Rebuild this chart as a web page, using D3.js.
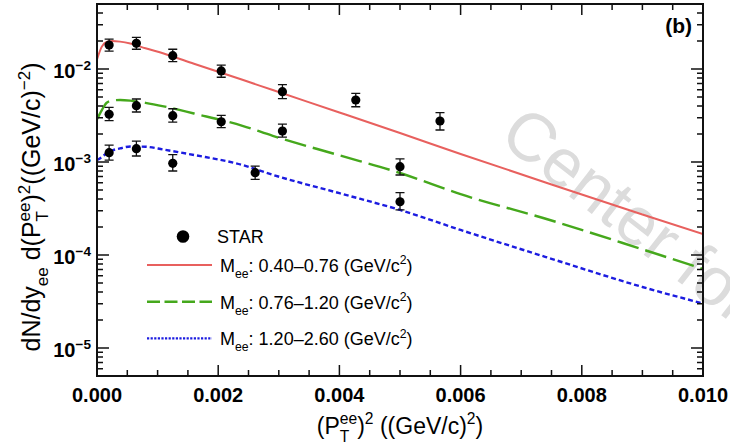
<!DOCTYPE html>
<html>
<head>
<meta charset="utf-8">
<script src="https://cdn.jsdelivr.net/npm/d3@7"></script>
<style>
  html, body { margin: 0; padding: 0; background: #fff; }
  svg { display: block; font-family: "Liberation Sans", Arial, sans-serif; }
</style>
</head>
<body>
<svg id="chart" width="730" height="446"></svg>
<script>
// STAR points, three mass windows (value, upper and lower end of the error bar)
var lowX  = [0.0002, 0.00065, 0.00125, 0.00205, 0.00306, 0.00427, 0.00566];
var lowY  = [0.0181, 0.0189, 0.0139, 0.00953, 0.00570, 0.00464, 0.00276];
var lowHi = [0.0210, 0.0219, 0.0163, 0.0110, 0.00678, 0.00548, 0.00339];
var lowLo = [0.0156, 0.0163, 0.0120, 0.00815, 0.00480, 0.00393, 0.00221];

var midX  = [0.0002, 0.00065, 0.00125, 0.00205, 0.00306, 0.0050];
var midY  = [0.00326, 0.00403, 0.00315, 0.00271, 0.00215, 0.000891];
var midHi = [0.00387, 0.00476, 0.00374, 0.00318, 0.00256, 0.00108];
var midLo = [0.00278, 0.00345, 0.00269, 0.00234, 0.00185, 0.000725];

var highX  = [0.0002, 0.00065, 0.00125, 0.00261, 0.0050];
var highY  = [0.00126, 0.00139, 0.000969, 0.000767, 0.000374];
var highHi = [0.00152, 0.00168, 0.00120, 0.000905, 0.000468];
var highLo = [0.00105, 0.00116, 0.000800, 0.000651, 0.000305];

// model curves
var curveX    = [0, 0.00008, 0.00016, 0.00025, 0.00038, 0.00055, 0.0008, 0.0011, 0.0016, 0.0024, 0.0029, 0.004, 0.005, 0.006, 0.0075, 0.009, 0.010];
var lowCurve  = [0.0127, 0.0174, 0.0195, 0.0200, 0.0197, 0.0188, 0.0167, 0.0147, 0.0114, 0.00766, 0.00594, 0.00341, 0.00205, 0.00122, 0.000573, 0.000273, 0.000168];
var midCurve  = [0.00288, 0.00362, 0.00434, 0.00457, 0.00464, 0.00457, 0.00433, 0.00397, 0.00332, 0.00245, 0.00191, 0.00118, 0.000762, 0.000451, 0.000235, 0.000115, 0.0000708];
var highCurve = [0.00105, 0.00113, 0.00124, 0.00133, 0.00140, 0.00147, 0.00146, 0.00136, 0.00119, 0.000929, 0.000728, 0.000462, 0.000305, 0.000186, 0.0000910, 0.0000453, 0.0000301];

var xMajor = [0, 0.002, 0.004, 0.006, 0.008, 0.010];
var xLabels = ["0.000", "0.002", "0.004", "0.006", "0.008", "0.010"];
var yMajor = [1e-5, 1e-4, 1e-3, 1e-2];
var yExp = ["\u22125", "\u22124", "\u22123", "\u22122"];
var legendNames = ["0.40\u20130.76", "0.76\u20131.20", "1.20\u20132.60"];

var red = "#e8605e", green = "#45a81c", blue = "#1c1ce0";

///////////////////////////////////////////////////////////////
var svg = d3.select("#chart");
var plotL = 97, plotR = 703, plotT = 4, plotB = 376;

var x = d3.scaleLinear().domain([0, 0.010]).range([plotL, plotR]);
var y = d3.scaleLog().domain([5e-6, 5e-2]).range([plotB, plotT]);

svg.append("clipPath").attr("id", "clip")
    .append("rect").attr("x", plotL).attr("y", plotT)
    .attr("width", plotR - plotL).attr("height", plotB - plotT);

// text with sub/superscripts; parts: [text, kind] kind = "", "sub", "sup", "stack"
function rich(t, parts, size) {
    var small = size * 0.68, cur = 0, pad = 0;
    parts.forEach(function (p) {
        if (p[1] === "stack") {
            var up = t.append("tspan").attr("font-size", small)
                .attr("dx", pad).attr("dy", -size * 0.42 - cur).text(p[0][0]);
            cur = -size * 0.42;
            var w1 = up.node().getComputedTextLength();
            var dn = t.append("tspan").attr("font-size", small)
                .attr("dx", -w1).attr("dy", size * 0.33 - cur).text(p[0][1]);
            cur = size * 0.33;
            pad = Math.max(0, w1 - dn.node().getComputedTextLength());
            return;
        }
        var shift = p[1] === "sup" ? -size * 0.42 : p[1] === "sub" ? size * 0.33 : 0;
        t.append("tspan").attr("font-size", p[1] ? small : size)
            .attr("dx", pad).attr("dy", shift - cur).text(p[0]);
        cur = shift;
        pad = 0;
    });
}

// watermark
svg.append("text")
    .attr("transform", "translate(497,140) rotate(38)")
    .attr("font-size", 68)
    .attr("fill", "#dcdcdc")
    .text("Center for");

// curves
var series = [
    { c: lowCurve, col: red, w: 2, dash: null, lg: null },
    { c: midCurve, col: green, w: 2.4, dash: "22,7", lg: "13,4.5" },
    { c: highCurve, col: blue, w: 2.4, dash: "5,3", lg: "2.2,1.4" }
];
var line = d3.line()
    .x(function (d) { return x(d[0]); })
    .y(function (d) { return y(d[1]); })
    .curve(d3.curveMonotoneX);

var g = svg.append("g").attr("clip-path", "url(#clip)");
series.forEach(function (s) {
    g.append("path")
        .datum(d3.zip(curveX, s.c))
        .attr("fill", "none")
        .attr("stroke", s.col)
        .attr("stroke-width", s.w)
        .attr("stroke-dasharray", s.dash)
        .attr("d", line);
});

// data points with error bars
var pts = [];
[[lowX, lowY, lowHi, lowLo], [midX, midY, midHi, midLo], [highX, highY, highHi, highLo]].forEach(function (a) {
    a[0].forEach(function (v, i) {
        pts.push({ x: v, y: a[1][i], hi: a[2][i], lo: a[3][i] });
    });
});
var pg = svg.selectAll(".pt").data(pts).enter().append("g").attr("class", "pt");
pg.append("path")
    .attr("fill", "none").attr("stroke", "#111").attr("stroke-width", 1.3)
    .attr("d", function (d) {
        var cx = x(d.x), a = y(d.hi), b = y(d.lo);
        return "M" + cx + "," + a + "V" + b +
            "M" + (cx - 4.5) + "," + a + "H" + (cx + 4.5) +
            "M" + (cx - 4.5) + "," + b + "H" + (cx + 4.5);
    });
pg.append("circle")
    .attr("cx", function (d) { return x(d.x); })
    .attr("cy", function (d) { return y(d.y); })
    .attr("r", 4.6)
    .attr("fill", "#000");

// frame and ticks
var axes = svg.append("g").attr("stroke", "#111").attr("fill", "none");
axes.append("rect").attr("x", plotL).attr("y", plotT)
    .attr("width", plotR - plotL).attr("height", plotB - plotT)
    .attr("stroke-width", 2);

var xMinor = d3.range(0, 21).map(function (i) { return i * 0.0005; });
xMinor.forEach(function (v) {
    var major = xMajor.some(function (m) { return Math.abs(m - v) < 1e-9; });
    var len = major ? 11 : 6;
    axes.append("path").attr("stroke-width", 1.5)
        .attr("d", "M" + x(v) + "," + plotB + "v" + (-len) + "M" + x(v) + "," + plotT + "v" + len);
});

var yTicks = [];
d3.range(-6, -1).forEach(function (e) {
    d3.range(1, 10).forEach(function (m) { yTicks.push({ v: m * Math.pow(10, e), major: m === 1 }); });
});
yTicks.filter(function (t) { return t.v >= 5e-6 && t.v <= 5e-2 * 1.0001; }).forEach(function (t) {
    var len = t.major ? 12 : 6, py = y(t.v);
    axes.append("path").attr("stroke-width", 1.5)
        .attr("d", "M" + plotL + "," + py + "h" + len + "M" + plotR + "," + py + "h" + (-len));
});

// tick labels
svg.selectAll(".xl").data(xMajor).enter().append("text")
    .attr("class", "xl")
    .attr("x", function (d) { return x(d); })
    .attr("y", 402)
    .attr("text-anchor", "middle")
    .attr("font-size", 20).attr("font-weight", "bold")
    .text(function (d, i) { return xLabels[i]; });

yMajor.forEach(function (v, i) {
    var t = svg.append("text")
        .attr("x", 91).attr("y", y(v) + 9)
        .attr("text-anchor", "end")
        .attr("font-weight", "bold");
    rich(t, [["10", ""], [yExp[i], "sup"]], 20);
});

// axis titles
var xt = svg.append("text").attr("x", 400).attr("y", 434).attr("text-anchor", "middle");
rich(xt, [["(P", ""], [["ee", "T"], "stack"], [")", ""], ["2", "sup"], [" ((GeV/c)", ""], ["2", "sup"], [")", ""]], 23);

var yt = svg.append("text").attr("transform", "translate(40,207) rotate(-90)").attr("text-anchor", "middle");
rich(yt, [["dN/dy", ""], ["ee", "sub"], [" d(P", ""], [["ee", "T"], "stack"], [")", ""], ["2", "sup"],
    ["((GeV/c)", ""], ["\u22122", "sup"], [")", ""]], 25);

// panel label
svg.append("text").attr("x", 692).attr("y", 33).attr("text-anchor", "end")
    .attr("font-size", 21).attr("font-weight", "bold").text("(b)");

// legend
var lg = svg.append("g");
lg.append("circle").attr("cx", 183).attr("cy", 236.5).attr("r", 6.3).attr("fill", "#000");
lg.append("text").attr("x", 217).attr("y", 243).attr("font-size", 18).text("STAR");
series.forEach(function (s, i) {
    var ly = 265 + i * 36.7;
    lg.append("line").attr("x1", 147).attr("x2", 212).attr("y1", ly).attr("y2", ly)
        .attr("stroke", s.col).attr("stroke-width", s.w)
        .attr("stroke-dasharray", s.lg);
    var t = lg.append("text").attr("x", 220).attr("y", ly + 7);
    rich(t, [["M", ""], ["ee", "sub"], [": " + legendNames[i] + " (GeV/c", ""], ["2", "sup"], [")", ""]], 18);
});
</script>
</body>
</html>
